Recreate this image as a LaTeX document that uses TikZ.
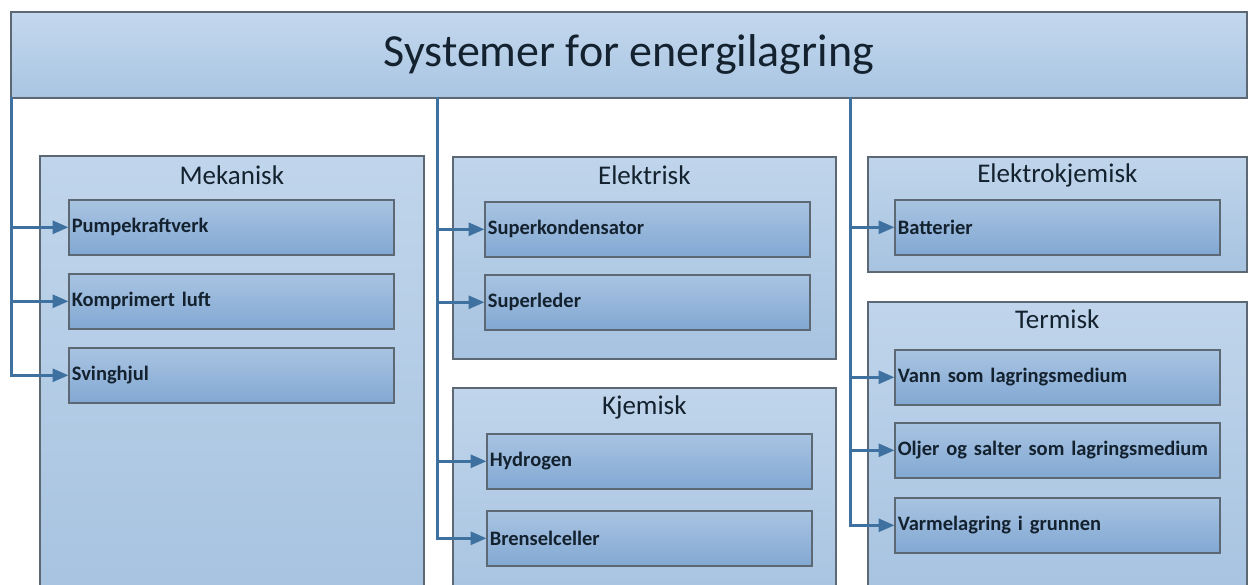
\documentclass[tikz,border=0pt]{standalone}
\usepackage{fontspec}
\setmainfont{Carlito}
\usetikzlibrary{arrows.meta,calc}

\definecolor{edge}{HTML}{5C6873}
\definecolor{link}{HTML}{3E70A0}
\definecolor{ink}{HTML}{14222F}
\definecolor{titleTop}{HTML}{C4D8EE}
\definecolor{titleBot}{HTML}{A9C5E2}
\definecolor{grpTop}{HTML}{C0D5EB}
\definecolor{grpBot}{HTML}{A7C3E0}
\definecolor{itemTop}{HTML}{A9C4E2}
\definecolor{itemBot}{HTML}{82A8D3}

\tikzset{
  box/.style={rectangle, draw=edge, line width=1.6pt, inner sep=0pt, anchor=north west},
  titlebox/.style={box, top color=titleTop, bottom color=titleBot,
    minimum width=1236pt, minimum height=86pt, text=ink,
    font=\fontsize{46}{54}\selectfont},
  grp/.style={box, top color=grpTop, bottom color=grpBot},
  grptitle/.style={inner sep=0pt, text=ink, font=\fontsize{27}{32}\selectfont},
  item/.style={box, top color=itemTop, bottom color=itemBot,
    text width=319pt, inner xsep=3pt, minimum height=55pt, align=left,
    text=ink, font=\bfseries\fontsize{20.5}{24}\selectfont},
  link arrow/.style={draw=link, line width=3pt,
    -{Triangle[length=16pt,width=13pt]}, shorten >=-0.5pt},
}

\begin{document}
\begin{tikzpicture}[x=1pt,y=-1pt]
\useasboundingbox (0,0) rectangle (1248,585);
\fill[white] (0,0) rectangle (1248,585);
\clip (0,0) rectangle (1248,585);

% top-level heading
\node[titlebox] (title) at (10,11) {Systemer for energilagring};

% category groups
\node[grp, minimum width=384pt, minimum height=450pt] (mek) at (39,155) {};
\node[grp, minimum width=383pt, minimum height=202pt] (ele) at (452,156) {};
\node[grp, minimum width=383pt, minimum height=220pt] (kje) at (452,387) {};
\node[grp, minimum width=379pt, minimum height=115pt] (ekj) at (867,156) {};
\node[grp, minimum width=379pt, minimum height=300pt] (ter) at (867,301) {};

\node[grptitle] (mekT) at ($(mek.north)+(0,20)$) {Mekanisk};
\node[grptitle] (eleT) at ($(ele.north)+(0,19)$) {Elektrisk};
\node[grptitle] (kjeT) at ($(kje.north)+(0,20)$) {Kjemisk};
\node[grptitle] (ekjT) at ($(ekj.north)+(0,19)$) {Elektrokjemisk};
\node[grptitle] (terT) at ($(ter.north)+(0,18)$) {Termisk};

% technologies
\node[item] (pump) at (68,199) {Pumpekraftverk};
\node[item] (luft) at (68,273) {Komprimert luft};
\node[item] (sving) at (68,347) {Svinghjul};

\node[item] (superk) at (484,201) {Superkondensator};
\node[item] (superl) at (484,274) {Superleder};
\node[item] (hydro) at (486,433) {Hydrogen};
\node[item] (brensel) at (486,510) {Brenselceller};

\node[item] (batt) at (894,199) {Batterier};
\node[item] (vann) at (894,349) {Vann som lagringsmedium};
\node[item] (olje) at (894,422) {Oljer og salter som lagringsmedium};
\node[item] (varme) at (894,497) {Varmelagring i grunnen};

% branch points on the heading's lower edge
\coordinate (busA) at (11,97);
\coordinate (busB) at (437,97);
\coordinate (busC) at (850,97);

% connectors
\foreach \t in {pump,luft,sving}
  \draw[link arrow] (busA) |- (\t.west);
\foreach \t in {superk,superl,hydro,brensel}
  \draw[link arrow] (busB) |- (\t.west);
\foreach \t in {batt,vann,olje,varme}
  \draw[link arrow] (busC) |- (\t.west);
\end{tikzpicture}
\end{document}
